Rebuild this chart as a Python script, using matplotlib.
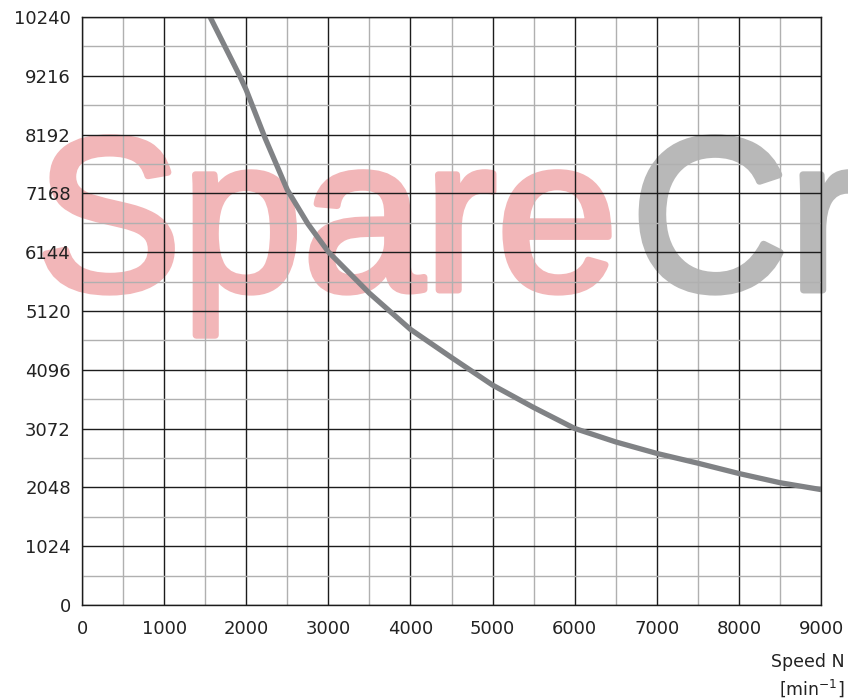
import numpy as np
import matplotlib as mpl
mpl.use("Agg")
import matplotlib.pyplot as plt
import matplotlib.patheffects as pe
from matplotlib.ticker import MultipleLocator

# torque-speed curve
speed = [1560, 1920, 2000, 2230, 2500, 2750, 3000, 3500, 4000, 4500, 5000, 5500, 6000,
         6500, 7000, 7500, 8000, 8500, 9000]
torque = [10240, 9216, 8970, 8130, 7230, 6640, 6150, 5430, 4800, 4310, 3830, 3440, 3075,
          2840, 2640, 2470, 2290, 2130, 2010]
x_ticks = [0, 1000, 2000, 3000, 4000, 5000, 6000, 7000, 8000, 9000]
y_ticks = [0, 1024, 2048, 3072, 4096, 5120, 6144, 7168, 8192, 9216, 10240]

plt.rcParams["font.family"] = ["DejaVu Sans"]

W, H = 848, 700
fig = plt.figure(figsize=(W / 100, H / 100), dpi=100, facecolor="white")
ax = fig.add_axes([82 / W, 1 - 605 / H, (821 - 82) / W, (605 - 17) / H])
ax.patch.set_alpha(0)

ax.set_xlim(0, 9000)
ax.set_ylim(0, 10240)
ax.set_xticks(x_ticks)
ax.set_yticks(y_ticks)
ax.xaxis.set_minor_locator(MultipleLocator(500))
ax.yaxis.set_minor_locator(MultipleLocator(512))
ax.grid(which="minor", color="#b0b0b0", lw=1.0, zorder=0)
ax.grid(which="major", color="#1c1c1c", lw=1.0, zorder=0.5)
ax.set_axisbelow(True)
ax.tick_params(which="both", length=0, labelsize=13, colors="#222222")
ax.tick_params(axis="x", pad=11)
ax.tick_params(axis="y", pad=8)
for sp in ax.spines.values():
    sp.set_color("#1c1c1c")
    sp.set_linewidth(1.0)

ax.plot(speed, torque, color="#808285", lw=3.8, solid_capstyle="round",
        solid_joinstyle="round", zorder=2)

# watermark, behind the grid
wm = dict(fontsize=157, family="Liberation Sans", va="baseline", ha="left", zorder=-1)
fig.text(36 / W, 1 - 290 / H, "Spare", color="#f2b6b8",
         path_effects=[pe.withStroke(linewidth=5, foreground="#f2b6b8")], **wm)
fig.text(631 / W, 1 - 290 / H, "Cr", color="#b8b8b8",
         path_effects=[pe.withStroke(linewidth=5, foreground="#b8b8b8")], **wm)

fig.text(845 / W, 1 - 662 / H, "Speed N", ha="right", va="center", fontsize=12.5, color="#222222")
fig.text(845 / W, 1 - 688 / H, "[min$^{\\mathregular{-1}}$]", ha="right", va="center",
         fontsize=12.5, color="#222222")

fig.savefig("out.png", dpi=100)
